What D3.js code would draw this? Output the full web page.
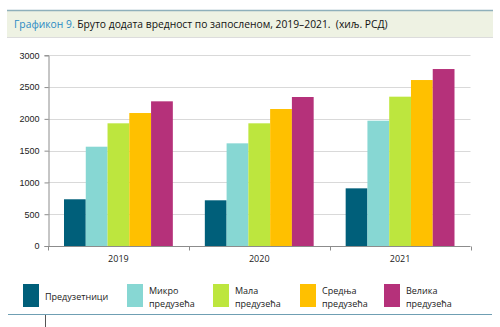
<!DOCTYPE html>
<html lang="sr">
<head>
<meta charset="UTF-8">
<script src="https://d3js.org/d3.v7.min.js"></script>
<style>
  body { margin: 0; background: #fff; }
  svg { font-family: "Open Sans", "Noto Sans", sans-serif; }
  .tick text { font-size: 9px; fill: #222; }
</style>
</head>
<body>
<div id="chart"></div>
<script>
// data
const years = ["2019", "2020", "2021"];
const seriesNames = ["Предузетници", "Микро предузећа", "Мала предузећа", "Средња предузећа", "Велика предузећа"];
const legendLines = [["Предузетници"], ["Микро", "предузећа"], ["Мала", "предузећа"], ["Средња", "предузећа"], ["Велика", "предузећа"]];
const preduzetnici = [735, 719, 907];
const mikro = [1562, 1615, 1971];
const mala = [1930, 1930, 2349];
const srednja = [2092, 2155, 2611];
const velika = [2276, 2344, 2784];
const yTicks = [0, 500, 1000, 1500, 2000, 2500, 3000];
const colors = ["#005f7a", "#87d7d3", "#bde63e", "#ffc000", "#b5317a"];

const values = [preduzetnici, mikro, mala, srednja, velika];
const rows = years.map((y, i) => ({ year: y, vals: values.map(s => s[i]) }));

const W = 500, H = 327;
const svg = d3.select("#chart").append("svg").attr("width", W).attr("height", H);

// title band
svg.append("rect").attr("x", 7).attr("y", 10).attr("width", 486).attr("height", 27).attr("fill", "#eef2e3");
svg.append("line").attr("x1", 7).attr("x2", 493).attr("y1", 10.5).attr("y2", 10.5).attr("stroke", "#8fb0bb").attr("stroke-width", 1.5);
svg.append("line").attr("x1", 7).attr("x2", 493).attr("y1", 37.5).attr("y2", 37.5).attr("stroke", "#dcdcdc").attr("stroke-width", 1);
const title = svg.append("text").attr("x", 14).attr("y", 28).attr("font-size", 10.3)
  .style("white-space", "pre");
title.append("tspan").attr("fill", "#2a8ac3").text("Графикон 9.");
title.append("tspan").attr("fill", "#111").text(" Бруто додата вредност по запосленом, 2019–2021.  (хиљ. РСД)");

// scales
const x0 = d3.scaleBand().domain(years).range([48, 470.5]);
const x1 = d3.scaleBand().domain(d3.range(5)).range([16, x0.bandwidth() - 16]);
const y = d3.scaleLinear().domain([0, 3000]).range([246, 55.3]);

// grid
svg.append("g").selectAll("line").data(yTicks.slice(1)).join("line")
  .attr("x1", 48).attr("x2", 470.5)
  .attr("y1", d => Math.round(y(d)) + 0.5).attr("y2", d => Math.round(y(d)) + 0.5)
  .attr("stroke", "#d9d9d9");

// bars
svg.append("g").selectAll("g").data(rows).join("g")
  .attr("transform", d => `translate(${x0(d.year)},0)`)
  .selectAll("rect").data(d => d.vals).join("rect")
  .attr("x", (d, i) => x1(i))
  .attr("width", x1.bandwidth())
  .attr("y", d => y(d))
  .attr("height", d => y(0) - y(d))
  .attr("fill", (d, i) => colors[i]);

// y axis
const yAxis = svg.append("g").attr("transform", "translate(48.5,0)")
  .call(d3.axisLeft(y).tickValues(yTicks).tickFormat(d3.format("d")).tickSize(4).tickPadding(5));
yAxis.select(".domain").attr("stroke", "#8c8c8c");
yAxis.selectAll(".tick line").attr("stroke", "#8c8c8c");

// x axis with ticks at category boundaries
const xg = svg.append("g").attr("transform", "translate(0,246.5)");
xg.append("line").attr("x1", 48).attr("x2", 470.5).attr("stroke", "#8c8c8c");
xg.selectAll(".bt").data(years.map(d => x0(d)).concat([x0.range()[1]])).join("line")
  .attr("class", "bt")
  .attr("x1", d => Math.round(d) + 0.5).attr("x2", d => Math.round(d) + 0.5)
  .attr("y1", 0).attr("y2", 4).attr("stroke", "#8c8c8c");
xg.selectAll("text").data(years).join("text")
  .attr("x", d => x0(d) + x0.bandwidth() / 2)
  .attr("y", 15).attr("text-anchor", "middle").attr("font-size", 9).attr("fill", "#222")
  .text(d => d);

// legend
const legX = [23, 127, 213, 300, 384];
const leg = svg.append("g").selectAll("g").data(seriesNames).join("g")
  .attr("transform", (d, i) => `translate(${legX[i]},284)`);
leg.append("rect").attr("width", 16).attr("height", 23).attr("fill", (d, i) => colors[i]);
leg.each(function (d, i) {
  const lines = legendLines[i];
  const t = d3.select(this).append("text").attr("font-size", 9).attr("fill", "#222");
  lines.forEach((ln, k) => {
    t.append("tspan").attr("x", 22)
      .attr("y", lines.length === 1 ? 16 : 10 + k * 12.5)
      .text(ln);
  });
});

// bottom rule
svg.append("line").attr("x1", 8).attr("x2", 492).attr("y1", 314.5).attr("y2", 314.5).attr("stroke", "#6f9fb3").attr("stroke-width", 1);
svg.append("line").attr("x1", 45.5).attr("x2", 45.5).attr("y1", 315).attr("y2", 327).attr("stroke", "#555");
</script>
</body>
</html>
